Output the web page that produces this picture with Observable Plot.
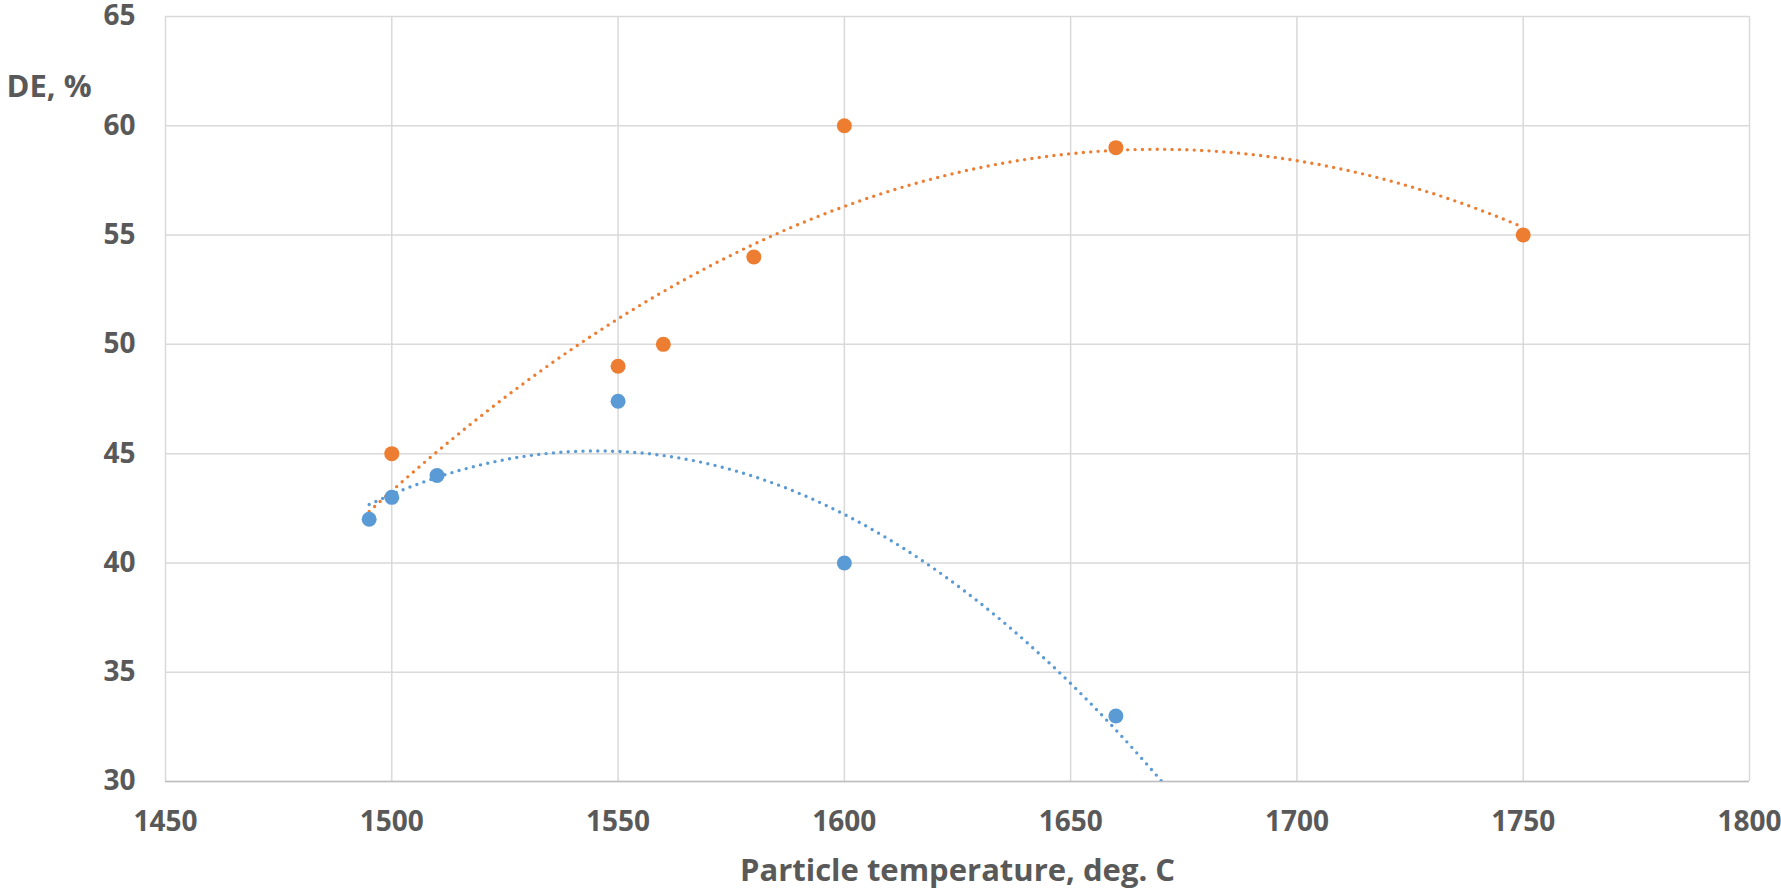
<!DOCTYPE html>
<html><head><meta charset="utf-8">
<script src="https://cdn.jsdelivr.net/npm/d3@7"></script>
<script src="https://cdn.jsdelivr.net/npm/@observablehq/plot@0.6"></script>
<style>
html,body{margin:0;padding:0;background:#fff;}
svg text{font-family:"Open Sans",sans-serif;font-weight:700;}
</style></head>
<body><div id="chart"></div>
<script>
// Series A (blue)
const blueT = [1495, 1500, 1510, 1550, 1600, 1660];
const blueDE = [42, 43, 44, 47.4, 40, 33];
// Series B (orange)
const orangeT = [1500, 1550, 1560, 1580, 1600, 1660, 1750];
const orangeDE = [45, 49, 50, 54, 60, 59, 55];
const xTicks = [1450, 1500, 1550, 1600, 1650, 1700, 1750, 1800];
const yTicks = [30, 35, 40, 45, 50, 55, 60, 65];
const blueRange = [1495, 1690];
const orangeRange = [1495, 1750];

const blue = "#5B9BD5", orange = "#ED7D31";

// quadratic least-squares trendline (as in the spreadsheet's polynomial trend)
function quadFit(xs, ys) {
  const x0 = d3.mean(xs);
  const u = xs.map(x => x - x0);
  const S = k => d3.sum(u, v => v ** k);
  const T = k => d3.sum(u, (v, i) => v ** k * ys[i]);
  const A = [[S(0), S(1), S(2)], [S(1), S(2), S(3)], [S(2), S(3), S(4)]];
  const b = [T(0), T(1), T(2)];
  const det = m => m[0][0]*(m[1][1]*m[2][2]-m[1][2]*m[2][1]) - m[0][1]*(m[1][0]*m[2][2]-m[1][2]*m[2][0]) + m[0][2]*(m[1][0]*m[2][1]-m[1][1]*m[2][0]);
  const D = det(A);
  const c = [0,1,2].map(j => det(A.map((row, i) => row.map((v, k) => k === j ? b[i] : v))) / D);
  return x => c[0] + c[1]*(x - x0) + c[2]*(x - x0)**2;
}
function trend(xs, ys, range) {
  const f = quadFit(xs, ys);
  return d3.range(range[0], range[1] + 0.01, 0.5).map(x => ({x, y: f(x)})).filter(d => d.y >= 29.5);
}
const blueData = blueT.map((t, i) => ({x: t, y: blueDE[i]}));
const orangeData = orangeT.map((t, i) => ({x: t, y: orangeDE[i]}));
const blueTrend = trend(blueT, blueDE, blueRange);
const orangeTrend = trend(orangeT, orangeDE, orangeRange);

const chart = Plot.plot({
  width: 1781, height: 889,
  marginLeft: 165, marginRight: 32, marginTop: 16, marginBottom: 108,
  style: {fontFamily: "'Open Sans', sans-serif", fontWeight: 700, color: "#595959", fontSize: "28px", background: "#fff"},
  x: {domain: [1450, 1800], ticks: xTicks, label: null, tickSize: 0, tickPadding: 30, tickFormat: d => String(d)},
  y: {domain: [30, 65], ticks: yTicks, label: null, tickSize: 0, tickPadding: 30},
  marks: [
    Plot.gridX(xTicks, {stroke: "#D9D9D9", strokeOpacity: 1, strokeWidth: 1.5}),
    Plot.gridY(yTicks, {stroke: "#D9D9D9", strokeOpacity: 1, strokeWidth: 1.5}),
    Plot.ruleY([30], {stroke: "#BFBFBF", strokeWidth: 1.5}),
    Plot.axisX({ticks: xTicks, tickSize: 0, tickPadding: 30, fontSize: 28, fill: "#595959", tickFormat: d => String(d)}),
    Plot.axisY({ticks: yTicks, tickSize: 0, tickPadding: 30, fontSize: 28, fill: "#595959"}),
    Plot.line(blueTrend, {x: "x", y: "y", stroke: blue, strokeWidth: 3.4, strokeDasharray: "0 7.4", strokeLinecap: "round", clip: true}),
    Plot.line(orangeTrend, {x: "x", y: "y", stroke: orange, strokeWidth: 3.4, strokeDasharray: "0 7.4", strokeLinecap: "round", clip: true}),
    Plot.dot(blueData, {x: "x", y: "y", r: 7.5, fill: blue, stroke: null}),
    Plot.dot(orangeData, {x: "x", y: "y", r: 7.5, fill: orange, stroke: null}),
    Plot.text(["DE, %"], {frameAnchor: "top-left", text: d => d, dx: -159, dy: 58, textAnchor: "start", fontSize: 31, fill: "#595959", fontWeight: 700}),
    Plot.text(["Particle temperature, deg. C"], {frameAnchor: "bottom", text: d => d, dy: 99, fontSize: 31, fill: "#595959", fontWeight: 700})
  ]
});
document.getElementById("chart").appendChild(chart);
</script></body></html>
